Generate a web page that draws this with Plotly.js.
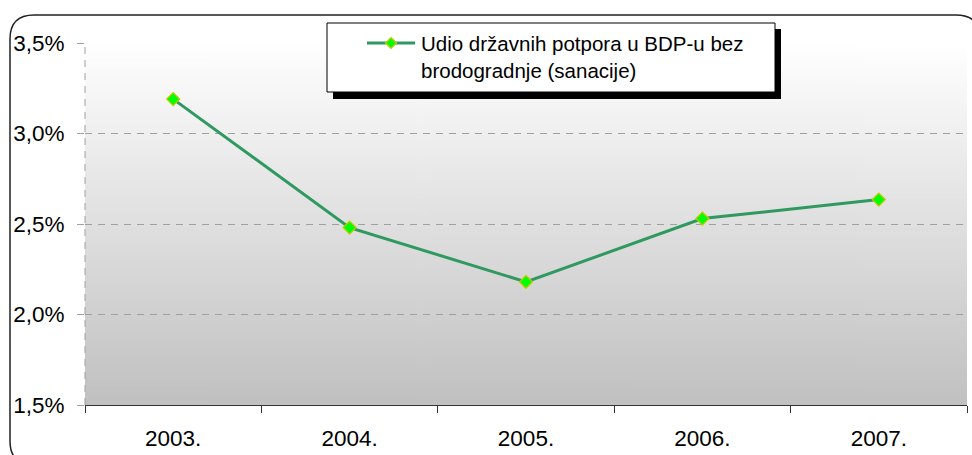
<!DOCTYPE html>
<html>
<head>
<meta charset="utf-8">
<script src="https://cdn.plot.ly/plotly-3.0.1.min.js"></script>
<style>html,body{margin:0;padding:0;background:#fff;}#chart{width:972px;height:455px;}</style>
</head>
<body>
<div id="chart"></div>
<script>
var years = ["2003.", "2004.", "2005.", "2006.", "2007."];
var shareValues = [3.19, 2.48, 2.18, 2.53, 2.635];
var seriesName = "Udio državnih potpora u BDP-u bez<br>brodogradnje (sanacije)";
var yTicks = [1.5, 2.0, 2.5, 3.0, 3.5];
var yTickLabels = ["1,5%", "2,0%", "2,5%", "3,0%", "3,5%"];

var W = 972, H = 455;
var M = {l: 85, r: 5, t: 43, b: 50};
var PW = W - M.l - M.r, PH = H - M.t - M.b;
function px(x) { return (x - M.l) / PW; }
function py(y) { return (H - M.b - y) / PH; }
function P(x, y) { return px(x) + ',' + py(y); }

// gradient background image
var cv = document.createElement('canvas');
cv.width = 4; cv.height = 256;
var ctx = cv.getContext('2d');
var g = ctx.createLinearGradient(0, 0, 0, 256);
g.addColorStop(0, '#ffffff');
g.addColorStop(1, '#c0c0c0');
ctx.fillStyle = g;
ctx.fillRect(0, 0, 4, 256);
var bgURL = cv.toDataURL();

var green = '#2f9960';
var trace = {
  x: years,
  y: shareValues,
  type: 'scatter',
  mode: 'lines+markers',
  name: seriesName,
  line: {color: green, width: 3},
  marker: {symbol: 'diamond', size: 10, color: '#00ff00', line: {color: '#c8c800', width: 1.2}},
  hoverinfo: 'skip',
  showlegend: false,
  cliponaxis: false
};

// outer rounded border
var bx0 = 10, by0 = 15, bx1 = 980, by1 = 465, rr = 24;
var borderPath = 'M' + P(bx0, by0 + rr) +
  ' Q' + P(bx0, by0) + ' ' + P(bx0 + rr, by0) +
  ' L' + P(bx1 - rr, by0) +
  ' Q' + P(bx1, by0) + ' ' + P(bx1, by0 + rr) +
  ' L' + P(bx1, by1 - rr) +
  ' Q' + P(bx1, by1) + ' ' + P(bx1 - rr, by1) +
  ' L' + P(bx0 + rr, by1) +
  ' Q' + P(bx0, by1) + ' ' + P(bx0, by1 - rr) + ' Z';

var dcx = 391, dcy = 43, dr = 5.5;
var diamondPath = 'M' + P(dcx, dcy - dr) + ' L' + P(dcx + dr, dcy) + ' L' + P(dcx, dcy + dr) + ' L' + P(dcx - dr, dcy) + ' Z';

var shapes = [
  {type: 'path', xref: 'paper', yref: 'paper', path: borderPath, line: {color: '#222', width: 1.5}, fillcolor: 'rgba(0,0,0,0)', layer: 'below'},
  {type: 'line', xref: 'paper', yref: 'paper', x0: 0, x1: 0, y0: 0, y1: 1, line: {color: '#a0a0a0', width: 1, dash: '7px,6px'}, layer: 'above'},
  {type: 'rect', xref: 'paper', yref: 'paper', x0: px(333), x1: px(781), y0: py(99), y1: py(29), fillcolor: '#000', line: {width: 0}, layer: 'above'},
  {type: 'rect', xref: 'paper', yref: 'paper', x0: px(327), x1: px(775), y0: py(92), y1: py(23), fillcolor: '#fff', line: {color: '#000', width: 1}, layer: 'above'},
  {type: 'line', xref: 'paper', yref: 'paper', x0: px(367), x1: px(415), y0: py(43), y1: py(43), line: {color: green, width: 3}, layer: 'above'},
  {type: 'path', xref: 'paper', yref: 'paper', path: diamondPath, fillcolor: '#00ff00', line: {color: '#c8c800', width: 1.2}, layer: 'above'}
];

var tickFont = {size: 22.5, family: '"Liberation Sans", Arial, sans-serif', color: '#000'};

var layout = {
  width: W, height: H,
  margin: M,
  paper_bgcolor: '#ffffff',
  plot_bgcolor: 'rgba(0,0,0,0)',
  font: {family: '"Liberation Sans", Arial, sans-serif', color: '#000', size: 22},
  showlegend: false,
  images: [{source: bgURL, xref: 'paper', yref: 'paper', x: 0, y: 1, sizex: 1, sizey: 1, sizing: 'stretch', layer: 'below', xanchor: 'left', yanchor: 'top'}],
  xaxis: {
    type: 'category',
    range: [-0.5, 4.5],
    autorange: false,
    tickson: 'boundaries',
    ticks: 'outside', ticklen: 7, tickcolor: '#333', tickwidth: 1,
    showline: true, linecolor: '#333', linewidth: 1,
    showgrid: false, zeroline: false,
    tickfont: tickFont,
    ticklabelstandoff: 13,
    fixedrange: true
  },
  yaxis: {
    range: [1.5, 3.5],
    autorange: false,
    tickmode: 'array',
    tickvals: yTicks,
    ticktext: yTickLabels,
    ticks: 'outside', ticklen: 7, tickcolor: '#a0a0a0', tickwidth: 1,
    showline: false, zeroline: false,
    showgrid: true, gridcolor: '#a0a0a0', gridwidth: 1, griddash: '7px,6px',
    tickfont: tickFont,
    ticklabelstandoff: 8,
    fixedrange: true
  },
  shapes: shapes,
  annotations: [{
    xref: 'paper', yref: 'paper', x: px(419), y: py(57), xanchor: 'left', yanchor: 'middle',
    text: seriesName, showarrow: false, align: 'left',
    font: {size: 20.5, color: '#000', family: '"Liberation Sans", Arial, sans-serif'}
  }]
};

Plotly.newPlot('chart', [trace], layout, {displayModeBar: false, staticPlot: true});
</script>
</body>
</html>
